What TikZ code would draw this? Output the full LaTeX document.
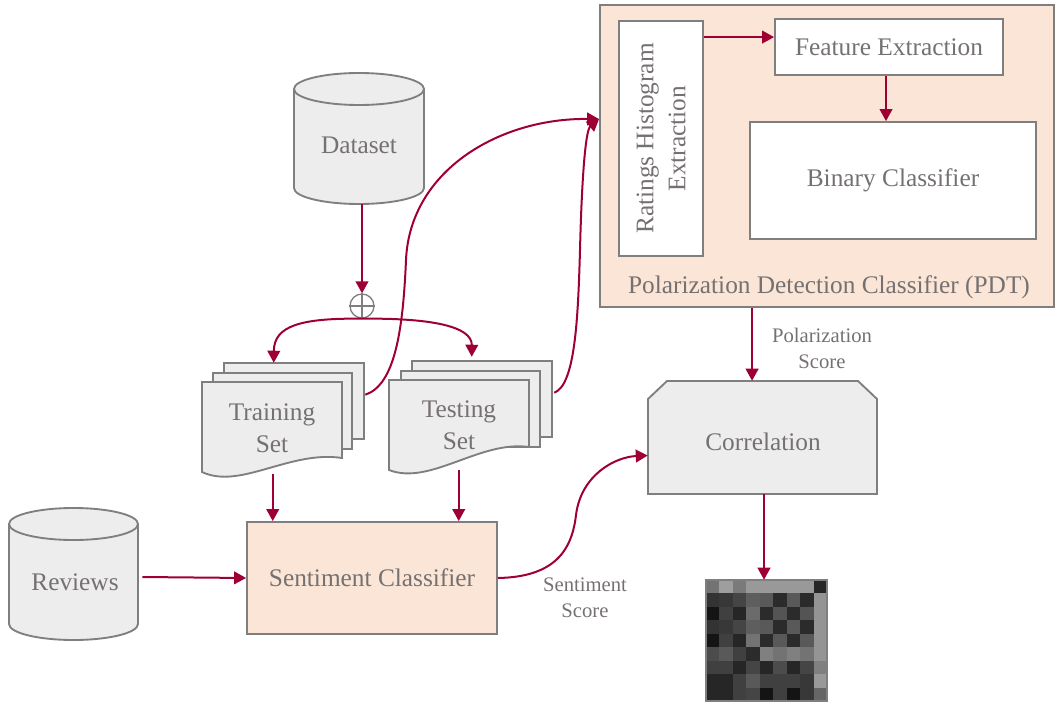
\documentclass[tikz,border=0pt]{standalone}
\usepackage{fontspec}
\setmainfont{Liberation Serif}
\usetikzlibrary{fit,arrows.meta,calc}
\definecolor{arrowred}{RGB}{158,0,52}
\definecolor{linegray}{RGB}{127,127,127}
\definecolor{textgray}{RGB}{118,113,113}
\definecolor{fillgray}{RGB}{237,237,237}
\definecolor{peach}{RGB}{251,229,214}
\begin{document}
\begin{tikzpicture}[x=0.75pt,y=-0.75pt,
  box/.style={draw=linegray,line width=1.4pt,inner sep=0pt},
  area/.style={inner sep=0pt},
  txt/.style={text=textgray,font=\fontsize{19}{24}\selectfont,align=center,inner sep=0pt},
  small/.style={text=textgray,font=\fontsize{15.5}{19.5}\selectfont,align=center,inner sep=0pt},
  conn/.style={draw=arrowred,line width=1.5pt,-{Triangle[length=9pt,width=9.5pt]}},
  outline/.style={draw=linegray,line width=1.4pt},
]
\useasboundingbox (0,0) rectangle (1056,702);

% ---------- PDT block ----------
\node[box,fill=peach,fit={(600,5) (1054,307)}] (pdt) {};
\node[box,fill=white,fit={(619,21) (703,256)}] (ratings) {};
\node[box,fill=white,fit={(775,19) (1003,75)}] (feature) {};
\node[box,fill=white,fit={(750,122) (1036,239)}] (binary) {};
\node[txt,rotate=90] at (ratings.center) {Ratings Histogram\\Extraction};
\node[txt] at (feature.center) {Feature Extraction};
\node[txt] at (binary.center) {Binary Classifier};
\node[txt] (pdtlabel) at (829,287) {Polarization Detection Classifier (PDT)};

\draw[conn] ($(ratings.north east)+(0,17)$) -- ($(feature.north west)+(0,19)$);
\draw[conn] ($(feature.south)+(-3,0)$) -- (binary.north -| {$(feature.south)+(-3,0)$});

% ---------- Dataset cylinder ----------
\node[area,fit={(294,73) (424,204)}] (dataset) {};
\fill[fillgray] (294,89) -- (294,188) arc[start angle=180,end angle=0,x radius=65,y radius=16]
  -- (424,89) arc[start angle=0,end angle=-180,x radius=65,y radius=16] -- cycle;
\draw[outline] (294,89) -- (294,188) arc[start angle=180,end angle=0,x radius=65,y radius=16] -- (424,89);
\draw[outline,fill=fillgray] (359,89) ellipse[x radius=65,y radius=16];
\node[txt] at (359,145) {Dataset};

% ---------- Reviews cylinder ----------
\node[area,fit={(9,508) (138,640)}] (reviews) {};
\fill[fillgray] (9,524) -- (9,624) arc[start angle=180,end angle=0,x radius=64.5,y radius=16]
  -- (138,524) arc[start angle=0,end angle=-180,x radius=64.5,y radius=16] -- cycle;
\draw[outline] (9,524) -- (9,624) arc[start angle=180,end angle=0,x radius=64.5,y radius=16] -- (138,524);
\draw[outline,fill=fillgray] (73.5,524) ellipse[x radius=64.5,y radius=16];
\node[txt] at (75,582) {Reviews};

% ---------- split symbol ----------
\node[circle,draw=linegray,line width=1pt,minimum size=18pt,inner sep=0pt] (oplus) at (362,306) {};
\draw[linegray,line width=1pt] (oplus.north) -- (oplus.south) (oplus.west) -- (oplus.east);
\draw[conn] (dataset.south -| oplus.north) -- (oplus.north);

% ---------- Training set stack ----------
\node[area,fit={(202,363) (364,476)}] (trainset) {};
\draw[outline,fill=fillgray] (224,363) rectangle (364,439);
\draw[outline,fill=fillgray] (213,373) rectangle (352,449);
\draw[outline,fill=fillgray] (202,382) -- (342,382) -- (342,458)
  .. controls (290,450) and (240,490) .. (202,472) -- cycle;
\node[txt] at (272,428) {Training\\Set};

% ---------- Testing set stack ----------
\node[area,fit={(389,361) (552,470)}] (testset) {};
\draw[outline,fill=fillgray] (412,361) rectangle (552,437);
\draw[outline,fill=fillgray] (401,371) rectangle (540,447);
\draw[outline,fill=fillgray] (389,380) -- (529,380) -- (529,447)
  .. controls (480,440) and (430,486) .. (389,470) -- cycle;
\node[txt] at (459,425) {Testing\\Set};

% split arrows
\draw[conn] (oplus.south) .. controls (300,318) and (274,326) .. ($(trainset.north west)+(72,0)$);
\draw[conn] (oplus.south) .. controls (430,318) and (472,326) .. ($(testset.north west)+(83,-4)$);

% ---------- Sentiment classifier ----------
\node[box,fill=peach,fit={(247,522) (497,634)}] (sent) {};
\node[txt] at (sent.center) {Sentiment Classifier};

\draw[conn] ($(trainset.south west)+(71,-2)$) -- (sent.north -| {$(trainset.south west)+(71,0)$});
\draw[conn] ($(testset.south west)+(70,0)$) -- (sent.north -| {$(testset.south west)+(70,0)$});
\draw[conn] ($(reviews.east)+(4,3)$) -- (sent.west);

% ---------- curves to PDT ----------
\draw[conn] ($(trainset.north east)+(1,32)$) .. controls (395,385) and (403,330) .. (406,260)
  .. controls (410,170) and (500,118) .. ($(pdt.north west)+(0,115)$);
\draw[conn] ($(testset.north east)+(2,32)$) .. controls (575,385) and (578,320) .. (580,250)
  .. controls (582,170) and (586,130) .. ($(pdt.north west)+(0,115)$);

% ---------- Correlation ----------
\node[area,fit={(648,381) (877,494)}] (corr) {};
\draw[outline,fill=fillgray] (648,399) -- (667,381) -- (858,381) -- (877,399) -- (877,494) -- (648,494) -- cycle;
\node[txt] at (763,442) {Correlation};

\draw[conn] ($(pdt.south west)+(153,0)$) -- (corr.north -| {$(pdt.south west)+(153,0)$});
\node[small] at (822,348) {Polarization\\Score};

\draw[conn] (sent.east) .. controls (555,577) and (572,550) .. (576,515)
  .. controls (581,475) and (615,457) .. ($(corr.west)+(0,18)$);
\node[small] at (585,598) {Sentiment\\Score};

% ---------- heat map ----------
\node[area,fit={(706,580) (827,701)}] (heat) {};
\foreach \row [count=\r from 0] in {
  {45,62,48,60,60,60,60,60,15},
  {20,22,27,37,35,17,35,17,58},
  {8,25,15,42,17,33,17,33,58},
  {20,22,27,37,35,17,35,17,58},
  {8,25,15,45,17,35,17,35,58},
  {30,35,25,17,50,45,50,45,58},
  {25,25,15,27,15,30,15,27,50},
  {15,15,25,35,25,25,25,22,60},
  {15,15,25,27,8,25,8,22,40}} {
  \foreach \v [count=\c from 0] in \row {
    \fill[white!\v!black] (706+\c*13.44,580+\r*13.44) rectangle ++(13.7,13.7);
  }
}
\draw[linegray,line width=1.2pt] (heat.north west) rectangle (heat.south east);
\draw[conn] ($(corr.south)+(1.5,0)$) -- (heat.north -| {$(corr.south)+(1.5,0)$});
\end{tikzpicture}
\end{document}
